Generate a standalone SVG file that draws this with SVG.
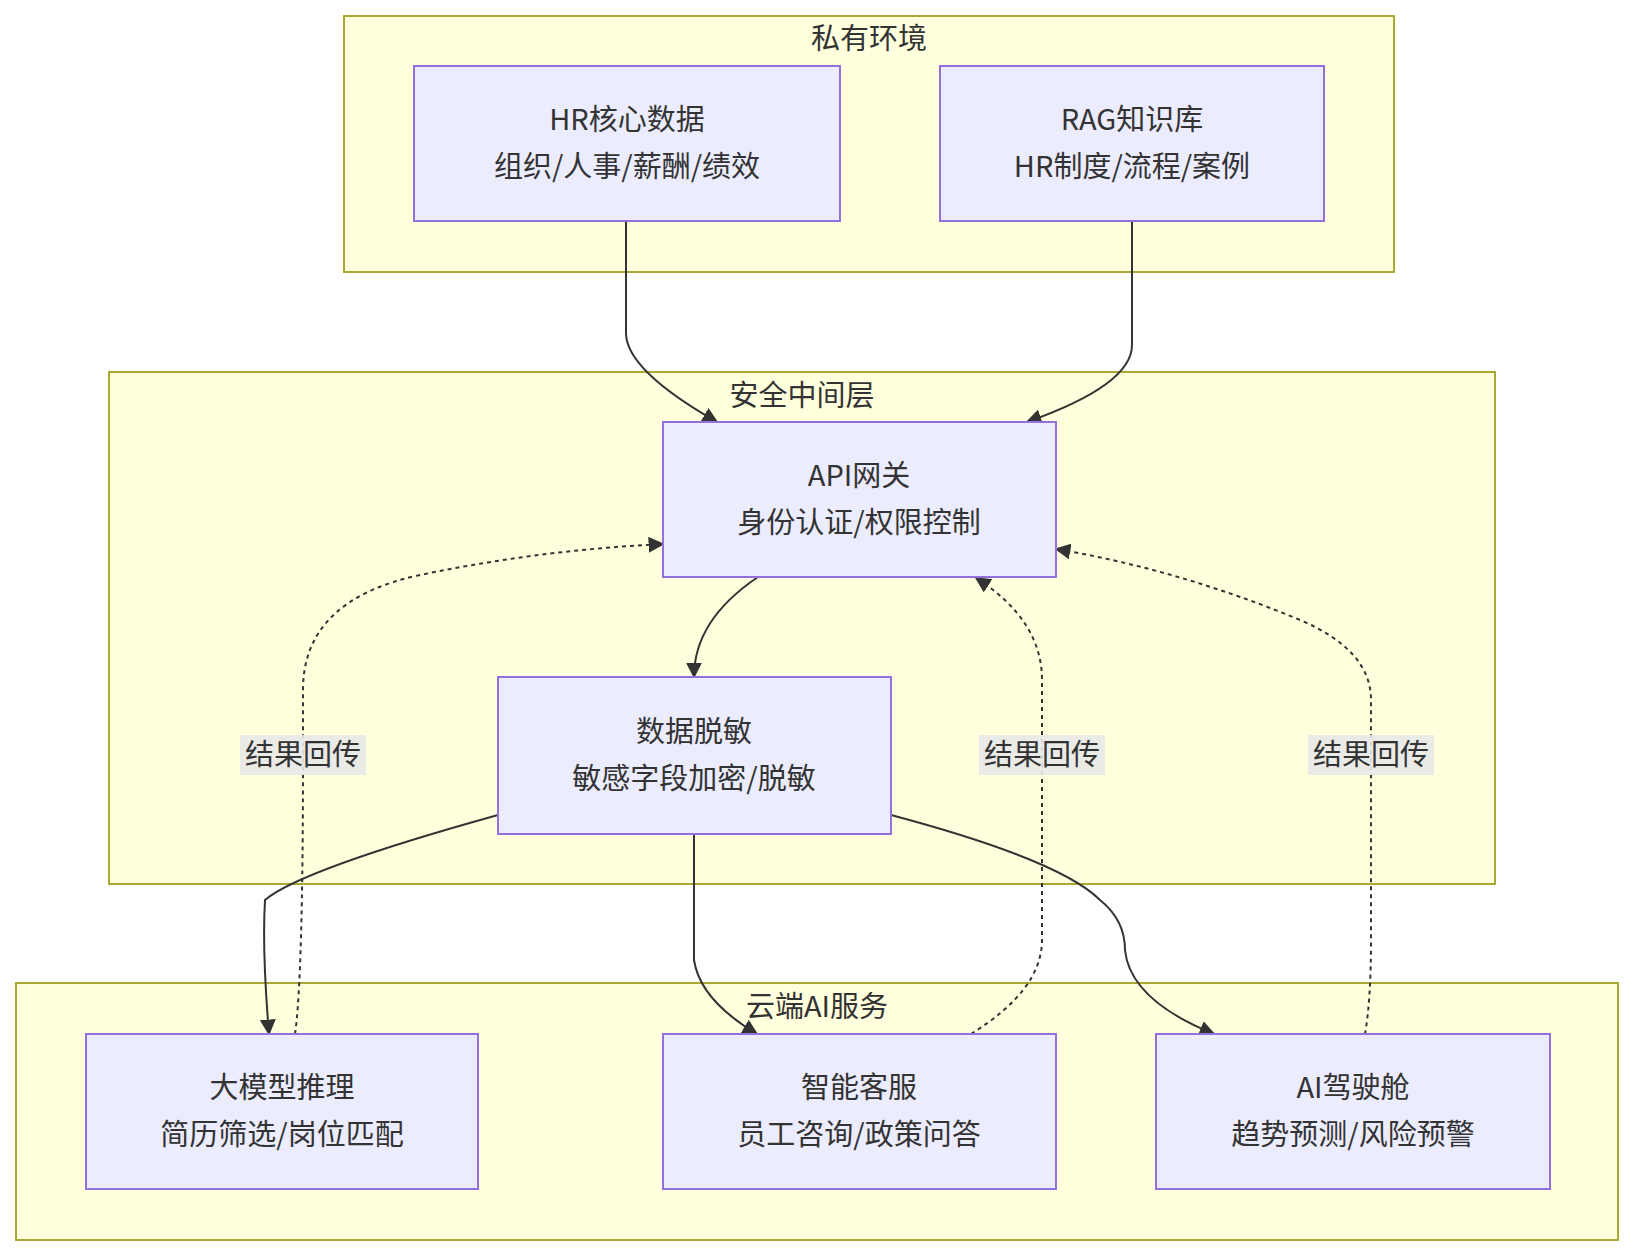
<svg xmlns="http://www.w3.org/2000/svg" width="1634" height="1256" viewBox="0 0 1634 1256">
<style>
text{font-family:"Noto Sans CJK SC","Noto Sans",sans-serif;fill:#333;text-anchor:middle;font-size:29px}
.cl{fill:#ffffde;stroke:#aaaa33;stroke-width:2}
.n{fill:#ececff;stroke:#9370db;stroke-width:2}
.e{fill:none;stroke:#333;stroke-width:2}
.d{stroke-dasharray:4 4}
.lb{fill:#e8e8e8;opacity:0.9}
</style>
<defs><marker id="a" viewBox="0 0 10 10" refX="9" refY="5" markerWidth="8" markerHeight="8" orient="auto"><path d="M0,0L10,5L0,10z" fill="#333"/></marker></defs>
<g id="clusters">
<rect class="cl" x="344" y="16" width="1050" height="256"/><text x="869" y="49">私有环境</text>
<rect class="cl" x="109" y="372" width="1386" height="512"/><text x="802" y="406">安全中间层</text>
<rect class="cl" x="16" y="983" width="1602" height="257"/><text x="817" y="1017">云端AI服务</text>
</g>
<g id="edges">
<path class="e" marker-end="url(#a)" d="M626,221V333Q626,370 717,422"/>
<path class="e" marker-end="url(#a)" d="M1132,221V345Q1132,385 1027,422"/>
<path class="e" marker-end="url(#a)" d="M758,577Q694,620 694,677"/>
<path class="e" marker-end="url(#a)" d="M498,815Q300,870 265,900Q262,950 269,1034"/>
<path class="e" marker-end="url(#a)" d="M694,834V960Q700,1000 757,1034"/>
<path class="e" marker-end="url(#a)" d="M891,815Q1060,860 1100,900Q1125,920 1125,950Q1130,1000 1214,1034"/>
<path class="e d" marker-end="url(#a)" d="M295,1034Q303,980 303,754V690Q303,600 420,575Q540,550 663,544"/>
<path class="e d" marker-end="url(#a)" d="M971,1034Q1042,990 1042,940V680Q1042,620 976,578"/>
<path class="e d" marker-end="url(#a)" d="M1365,1034Q1371,1000 1371,940V700Q1371,650 1300,620Q1180,570 1056,549"/>
<rect class="lb" x="240" y="735" width="126" height="40"/><text x="303" y="765">结果回传</text>
<rect class="lb" x="979" y="735" width="126" height="40"/><text x="1042" y="765">结果回传</text>
<rect class="lb" x="1308" y="735" width="126" height="40"/><text x="1371" y="765">结果回传</text>
</g>
<g id="hr"><rect class="n" x="414" y="66" width="426" height="155"/><text x="627" y="130">HR核心数据</text><text x="627" y="177">组织/人事/薪酬/绩效</text></g>
<g id="rag"><rect class="n" x="940" y="66" width="384" height="155"/><text x="1132" y="130">RAG知识库</text><text x="1132" y="177">HR制度/流程/案例</text></g>
<g id="api"><rect class="n" x="663" y="422" width="393" height="155"/><text x="859" y="486">API网关</text><text x="859" y="533">身份认证/权限控制</text></g>
<g id="mask"><rect class="n" x="498" y="677" width="393" height="157"/><text x="694" y="742">数据脱敏</text><text x="694" y="789">敏感字段加密/脱敏</text></g>
<g id="llm"><rect class="n" x="86" y="1034" width="392" height="155"/><text x="282" y="1098">大模型推理</text><text x="282" y="1145">简历筛选/岗位匹配</text></g>
<g id="cs"><rect class="n" x="663" y="1034" width="393" height="155"/><text x="859" y="1098">智能客服</text><text x="859" y="1145">员工咨询/政策问答</text></g>
<g id="ai"><rect class="n" x="1156" y="1034" width="394" height="155"/><text x="1353" y="1098">AI驾驶舱</text><text x="1353" y="1145">趋势预测/风险预警</text></g>
</svg>
